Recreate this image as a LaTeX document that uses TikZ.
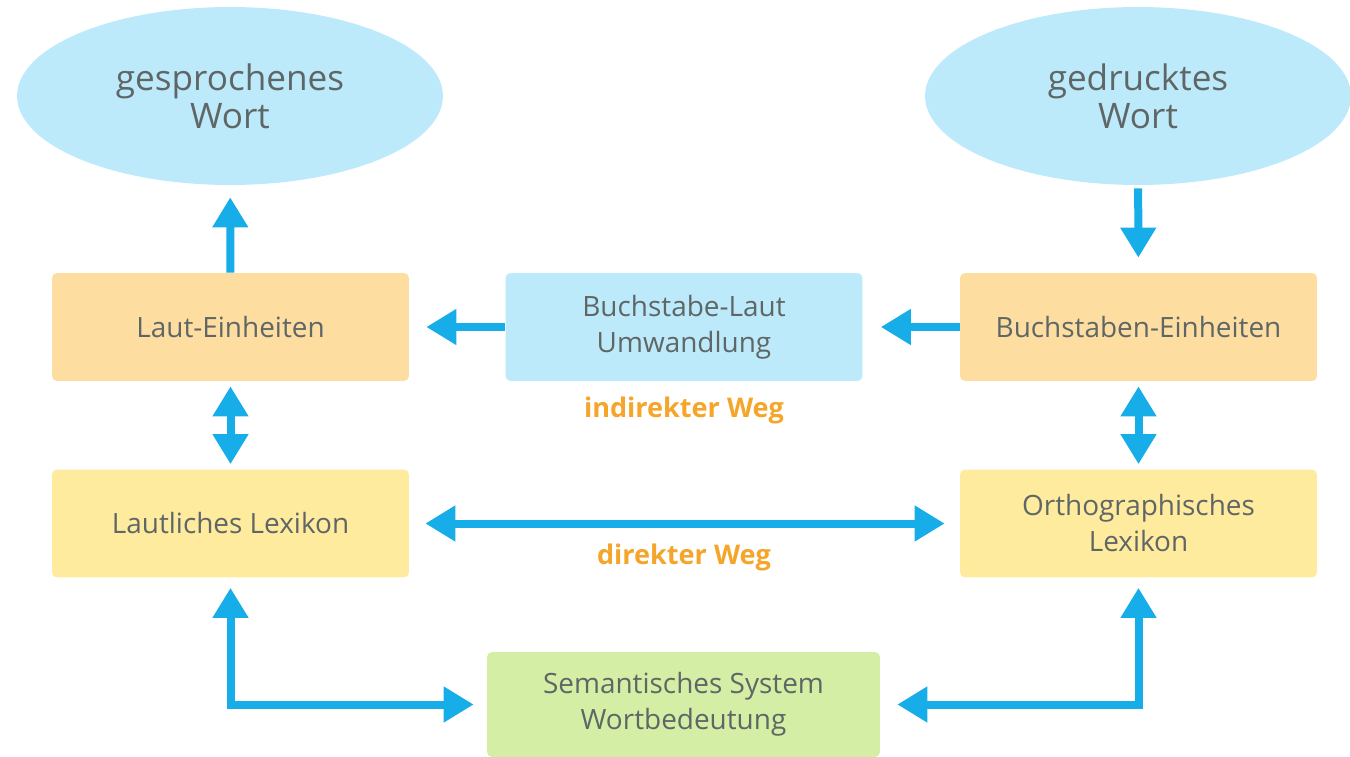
\documentclass[tikz,border=0pt]{standalone}
\usepackage{fontspec}
\setmainfont{Open Sans}
\usetikzlibrary{arrows.meta,shapes.geometric,positioning}

\definecolor{skyfill}{HTML}{BDEAFB}
\definecolor{unitfill}{HTML}{FEDDA1}
\definecolor{lexfill}{HTML}{FFEB9E}
\definecolor{semfill}{HTML}{D4EFA5}
\definecolor{arrblue}{HTML}{17ADE8}
\definecolor{wegorange}{HTML}{F4A52A}
\definecolor{txtgray}{HTML}{5F6666}

\tikzset{
  wordell/.style={ellipse, fill=skyfill, inner sep=0pt, minimum width=8.52cm,
    minimum height=3.56cm, align=center, text=txtgray,
    font=\fontsize{20}{21.5}\selectfont},
  box/.style={rectangle, rounded corners=0.1cm, minimum width=7.14cm,
    minimum height=2.16cm, align=center, text=txtgray,
    font=\fontsize{15.9}{20.5}\selectfont},
  weg/.style={text=wegorange, font=\bfseries\fontsize{15.4}{18}\selectfont},
  arr/.style={-{Triangle[length=0.6cm,width=0.68cm]}, line width=0.16cm, draw=arrblue},
  dbl/.style={{Triangle[length=0.6cm,width=0.68cm]}-{Triangle[length=0.6cm,width=0.68cm]},
    line width=0.16cm, draw=arrblue}
}

\begin{document}
\begin{tikzpicture}[x=0.02cm,y=-0.02cm]
  \useasboundingbox (0,0) rectangle (1350,757);

  \node[wordell] (gw) at (230,96)  {gesprochenes\\Wort};
  \node[wordell] (gd) at (1138,96) {gedrucktes\\Wort};

  \node[box, fill=unitfill] (le) at (230.5,327)  {Laut-Einheiten};
  \node[box, fill=skyfill]  (bl) at (684,327)    {Buchstabe-Laut\\Umwandlung};
  \node[box, fill=unitfill] (be) at (1138.5,327) {Buchstaben-Einheiten};

  \node[box, fill=lexfill] (ll) at (230.5,523.5)  {Lautliches Lexikon};
  \node[box, fill=lexfill] (ol) at (1138.5,523.5) {Orthographisches\\Lexikon};

  \node[box, fill=semfill, minimum width=7.86cm, minimum height=2.1cm]
       (sem) at (683.5,704.5) {Semantisches System\\Wortbedeutung};

  \node[weg] (ind) at (684,410) {indirekter Weg};
  \node[weg] (dir) at (684,557) {direkter Weg};

  \draw[arr, shorten >=0.24cm] (le) -- (gw);
  \draw[arr, shorten <=0.06cm, shorten >=0.3cm] (gd) -- (be);
  \draw[arr, shorten >=0.34cm] (bl) -- (le);
  \draw[arr, shorten >=0.36cm] (be) -- (bl);

  \draw[dbl, shorten <=0.1cm, shorten >=0.1cm] (le) -- (ll);
  \draw[dbl, shorten <=0.1cm, shorten >=0.1cm] (be) -- (ol);
  \draw[dbl, shorten <=0.32cm, shorten >=0.3cm] (ll.east) -- (ol.west);

  \draw[dbl, shorten <=0.2cm, shorten >=0.26cm] (ll.south) |- (sem.west);
  \draw[dbl, shorten <=0.2cm, shorten >=0.34cm] (ol.south) |- (sem.east);
\end{tikzpicture}
\end{document}
